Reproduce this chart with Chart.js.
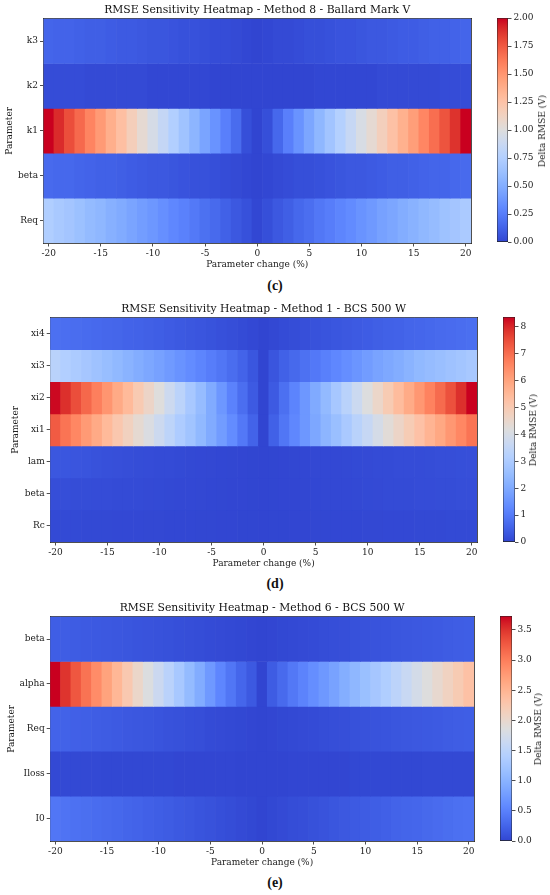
<!DOCTYPE html>
<html>
<head>
<meta charset="utf-8">
<script src="https://cdn.jsdelivr.net/npm/chart.js@4.4.0/dist/chart.umd.min.js"></script>
<style>
body{margin:0;background:#fff;width:550px;height:895px;position:relative;overflow:hidden}
canvas{position:absolute}
.cap{position:absolute;left:0;width:550px;text-align:center;font:bold 14px 'Liberation Serif',serif;color:#111}
.cbl{position:absolute;font:9px 'DejaVu Serif',serif;color:#222;white-space:nowrap;transform:translate(-50%,-50%) rotate(-90deg)}
</style>
</head>
<body>
<script>
// parameter change (%) columns, shared by the three maps
const pctSteps=[-20,-19,-18,-17,-16,-15,-14,-13,-12,-11,-10,-9,-8,-7,-6,-5,-4,-3,-2,-1,0,1,2,3,4,5,6,7,8,9,10,11,12,13,14,15,16,17,18,19,20]
const xTicks=[-20,-15,-10,-5,0,5,10,15,20]

// (c) Method 8 - Ballard Mark V
const paramsC=['k3','k2','k1','beta','Req']
const k3C=[0.14,0.13,0.13,0.12,0.11,0.11,0.10,0.09,0.09,0.08,0.07,0.07,0.06,0.05,0.05,0.04,0.03,0.03,0.02,0.01,0.00,0.01,0.02,0.02,0.03,0.04,0.04,0.05,0.06,0.06,0.07,0.08,0.08,0.09,0.10,0.10,0.11,0.12,0.12,0.13,0.14]
const k2C=[0.03,0.03,0.03,0.03,0.02,0.02,0.02,0.02,0.02,0.02,0.01,0.01,0.01,0.01,0.01,0.01,0.00,0.00,0.00,0.00,0.00,0.00,0.00,0.00,0.00,0.00,0.01,0.01,0.01,0.01,0.01,0.01,0.02,0.02,0.02,0.02,0.02,0.02,0.03,0.03,0.03]
const k1C=[2.00,1.90,1.79,1.69,1.58,1.48,1.37,1.27,1.16,1.05,0.95,0.85,0.75,0.65,0.55,0.45,0.36,0.26,0.17,0.04,0.00,0.04,0.15,0.26,0.36,0.46,0.56,0.66,0.76,0.86,0.96,1.05,1.15,1.26,1.36,1.46,1.57,1.67,1.77,1.88,2.00]
const betaC=[0.16,0.15,0.15,0.14,0.13,0.12,0.12,0.11,0.10,0.09,0.08,0.08,0.07,0.06,0.05,0.05,0.04,0.03,0.02,0.01,0.00,0.01,0.02,0.03,0.04,0.04,0.05,0.06,0.07,0.08,0.08,0.09,0.10,0.11,0.11,0.12,0.13,0.14,0.14,0.15,0.16]
const reqC=[0.74,0.70,0.67,0.63,0.59,0.56,0.52,0.49,0.45,0.41,0.38,0.34,0.30,0.27,0.23,0.19,0.16,0.12,0.08,0.05,0.01,0.04,0.08,0.11,0.15,0.18,0.22,0.25,0.29,0.32,0.36,0.39,0.43,0.46,0.50,0.53,0.57,0.60,0.64,0.67,0.71]
const cbTicksC=[0,0.25,0.5,0.75,1,1.25,1.5,1.75,2]

// (d) Method 1 - BCS 500 W
const paramsD=['xi4','xi3','xi2','xi1','lam','beta','Rc']
const xi4D=[0.78,0.75,0.72,0.69,0.66,0.62,0.59,0.55,0.52,0.48,0.44,0.40,0.36,0.32,0.28,0.24,0.20,0.16,0.11,0.06,0.00,0.05,0.10,0.14,0.18,0.22,0.26,0.30,0.34,0.38,0.42,0.46,0.50,0.53,0.57,0.60,0.63,0.67,0.70,0.73,0.76]
const xi3D=[3.30,3.15,3.00,2.85,2.70,2.55,2.40,2.25,2.10,1.95,1.80,1.65,1.50,1.35,1.20,1.05,0.90,0.72,0.55,0.30,0.00,0.28,0.50,0.65,0.80,0.95,1.10,1.25,1.40,1.55,1.70,1.85,1.98,2.10,2.25,2.40,2.50,2.60,2.70,2.80,2.90]
const xi2D=[8.30,7.90,7.50,7.10,6.70,6.30,5.85,5.45,5.00,4.60,4.20,3.75,3.35,2.90,2.50,2.05,1.60,1.15,0.75,0.38,0.00,0.38,0.78,1.18,1.60,2.02,2.45,2.88,3.30,3.72,4.15,4.55,4.98,5.40,5.82,6.25,6.65,7.05,7.45,7.90,8.37]
const xi1D=[7.30,6.90,6.55,6.20,5.85,5.45,5.10,4.75,4.40,4.10,3.75,3.40,3.05,2.75,2.40,2.05,1.70,1.35,0.95,0.55,0.00,0.50,0.90,1.25,1.60,1.95,2.30,2.60,2.95,3.30,3.60,3.95,4.30,4.60,4.95,5.25,5.60,5.90,6.25,6.55,6.90]
const lamD=[0.32,0.30,0.28,0.26,0.22,0.20,0.18,0.16,0.14,0.12,0.11,0.10,0.08,0.07,0.06,0.05,0.04,0.03,0.02,0.01,0.00,0.01,0.02,0.03,0.04,0.05,0.06,0.06,0.07,0.08,0.09,0.10,0.11,0.12,0.12,0.13,0.14,0.15,0.16,0.17,0.18]
const betaD=[0.16,0.15,0.14,0.14,0.13,0.12,0.11,0.10,0.10,0.09,0.08,0.07,0.06,0.06,0.05,0.04,0.03,0.02,0.02,0.01,0.00,0.01,0.02,0.02,0.03,0.04,0.05,0.06,0.06,0.07,0.08,0.09,0.10,0.10,0.11,0.12,0.13,0.14,0.14,0.15,0.16]
const rcD=[0.08,0.08,0.08,0.07,0.07,0.07,0.06,0.06,0.06,0.05,0.05,0.04,0.04,0.04,0.03,0.03,0.02,0.02,0.01,0.01,0.00,0.01,0.01,0.02,0.02,0.03,0.03,0.04,0.04,0.04,0.05,0.05,0.06,0.06,0.06,0.07,0.07,0.07,0.08,0.08,0.08]
const cbTicksD=[0,1,2,3,4,5,6,7,8]

// (e) Method 6 - BCS 500 W
const paramsE=['beta','alpha','Req','Iloss','I0']
const betaE=[0.20,0.19,0.18,0.17,0.16,0.15,0.14,0.13,0.12,0.11,0.10,0.09,0.08,0.07,0.06,0.05,0.04,0.03,0.02,0.01,0.00,0.01,0.02,0.03,0.04,0.05,0.06,0.07,0.08,0.09,0.10,0.11,0.12,0.13,0.14,0.15,0.16,0.17,0.18,0.19,0.20]
const alphaE=[3.73,3.50,3.28,3.08,2.88,2.68,2.47,2.25,2.03,1.84,1.65,1.48,1.29,1.10,0.92,0.73,0.55,0.40,0.27,0.16,0.00,0.18,0.30,0.42,0.52,0.62,0.72,0.82,0.94,1.05,1.16,1.27,1.38,1.50,1.62,1.75,1.86,1.98,2.10,2.22,2.35]
const reqE=[0.24,0.23,0.22,0.21,0.19,0.18,0.17,0.15,0.14,0.13,0.12,0.10,0.09,0.08,0.07,0.05,0.04,0.03,0.02,0.01,0.00,0.01,0.02,0.03,0.04,0.05,0.06,0.07,0.08,0.09,0.10,0.11,0.12,0.13,0.14,0.15,0.16,0.17,0.18,0.19,0.20]
const ilossE=[0.03,0.03,0.03,0.03,0.03,0.02,0.02,0.02,0.02,0.02,0.02,0.02,0.01,0.01,0.01,0.01,0.01,0.01,0.00,0.00,0.00,0.00,0.00,0.01,0.01,0.01,0.01,0.01,0.01,0.02,0.02,0.02,0.02,0.02,0.02,0.02,0.03,0.03,0.03,0.03,0.03]
const i0E=[0.40,0.38,0.36,0.34,0.32,0.30,0.28,0.26,0.24,0.22,0.20,0.18,0.16,0.14,0.12,0.10,0.08,0.06,0.04,0.02,0.00,0.02,0.04,0.06,0.07,0.09,0.11,0.13,0.15,0.17,0.18,0.20,0.22,0.24,0.26,0.27,0.29,0.31,0.33,0.35,0.36]
const cbTicksE=[0,0.5,1,1.5,2,2.5,3,3.5]

Chart.defaults.font.family="'DejaVu Serif', serif"
Chart.defaults.color='#222'

// coolwarm colormap table, pushed a little more saturated like the printed figure
const CW=[[59,76,192],[68,90,204],[77,104,215],[87,117,225],[98,130,234],[108,142,241],[119,154,247],[130,165,251],[141,176,254],[152,185,255],[163,194,255],[174,201,253],[184,208,249],[194,213,244],[204,217,238],[213,219,230],[221,221,221],[229,216,209],[236,211,197],[241,204,185],[245,196,173],[247,187,160],[247,177,148],[247,166,135],[244,154,123],[241,141,111],[236,127,99],[229,112,88],[222,96,77],[213,80,66],[203,62,56],[192,40,47],[180,4,38]]
    .map(c=>{const m=(c[0]+c[1]+c[2])/3;return c.map(v=>Math.max(0,Math.min(255,Math.round(m+(v-m)*1.2))))})
const rgb=c=>`rgb(${c.join(',')})`
const coolwarm=t=>{
    t=Math.max(0,Math.min(1,t))
    const f=t*32, i=Math.min(31,Math.floor(f)), u=f-i
    return rgb(CW[i].map((a,k)=>Math.round(a+(CW[i+1][k]-a)*u)))
}

const addCanvas=(left,top,w,h)=>{
    const c=document.createElement('canvas')
    c.width=w;c.height=h
    c.style.left=left+'px';c.style.top=top+'px'
    c.style.width=w+'px';c.style.height=h+'px'
    document.body.appendChild(c)
    return c
}

const addText=(cls,text,left,top)=>{
    const d=document.createElement('div')
    d.className=cls;d.textContent=text
    d.style.left=left+'px';d.style.top=top+'px'
    document.body.appendChild(d)
}

const renderHeatmap=(g,title,names,rows,vmax)=>{
    const n=names.length
    const canvas=addCanvas(0,g.top-18.3,Math.round(g.right+20),Math.round(g.bottom-g.top+18.3+32))
    const datasets=names.map((name,k)=>({
        label:name,
        data:pctSteps.map(p=>({x:p,y:[n-1-k-0.5,n-1-k+0.5]})),
        backgroundColor:rows[k].map(v=>coolwarm(v/vmax)),
        borderWidth:0,
        grouped:false,
        barPercentage:1,
        categoryPercentage:1
    }))
    const frame={drawOnChartArea:false,drawTicks:false}
    new Chart(canvas,{type:'bar',data:{datasets},options:{
        responsive:false,animation:false,events:[],
        layout:{padding:{left:0,right:20,top:0,bottom:4}},
        plugins:{
            legend:{display:false},tooltip:{enabled:false},
            title:{display:true,text:title,fullSize:false,color:'#111',font:{size:10.8,weight:'normal'},padding:{top:3.5,bottom:2.2}}
        },
        scales:{
            x:{type:'linear',min:-20.5,max:20.5,offset:false,z:1,
                afterBuildTicks:s=>{s.ticks=xTicks.map(v=>({value:v}))},
                afterFit:s=>{s.height=28},
                grid:{offset:false,drawOnChartArea:false,tickLength:3.5,color:'#222',lineWidth:0.8},
                border:{color:'#222',width:0.8},
                ticks:{padding:2,font:{size:9},maxRotation:0,autoSkip:false},
                title:{display:true,text:'Parameter change (%)',font:{size:9},padding:{top:0,bottom:0.5}}
            },
            y:{type:'linear',min:-0.5,max:n-0.5,z:1,
                afterBuildTicks:s=>{s.ticks=names.map((_,k)=>({value:n-1-k}))},
                afterFit:s=>{s.width=g.left},
                grid:{drawOnChartArea:false,tickLength:3.5,color:'#222',lineWidth:0.8},
                border:{color:'#222',width:0.8},
                ticks:{padding:2,font:{size:9},callback:v=>names[n-1-v]},
                title:{display:true,text:'Parameter',font:{size:9},padding:{top:g.yPad,bottom:0}}
            },
            xt:{type:'linear',position:'top',z:1,ticks:{display:false},grid:frame,
                border:{color:'#222',width:0.8},afterFit:s=>{s.height=0}},
            yr:{type:'linear',position:'right',z:1,ticks:{display:false},grid:frame,
                border:{color:'#222',width:0.8},afterFit:s=>{s.width=0}}
        }
    }})
}

const renderColorbar=(g,vmax,ticks,decimals)=>{
    const w=g.cbR-g.cbL
    const canvas=addCanvas(g.cbL-7,g.top-10,Math.round(w+47),Math.round(g.bottom-g.top+20))
    new Chart(canvas,{type:'bar',
        data:{labels:['cb'],datasets:[{
            data:[[0,vmax]],
            backgroundColor:ctx=>{
                const a=ctx.chart.chartArea
                if(!a) return null
                const gr=ctx.chart.ctx.createLinearGradient(0,a.bottom,0,a.top)
                CW.forEach((c,i)=>gr.addColorStop(i/32,rgb(c)))
                return gr
            },
            borderColor:'#222',borderWidth:0.8,borderSkipped:false,
            barPercentage:1,categoryPercentage:1
        }]},
        options:{
            responsive:false,animation:false,events:[],
            layout:{padding:{left:7,right:0,top:10,bottom:10}},
            plugins:{legend:{display:false},tooltip:{enabled:false}},
            scales:{
                x:{display:false},
                y:{position:'right',min:0,max:vmax,
                    afterBuildTicks:s=>{s.ticks=ticks.map(v=>({value:v}))},
                    afterFit:s=>{s.width=40},
                    grid:{drawOnChartArea:false,tickLength:3.5,color:'#222',lineWidth:0.8},
                    border:{display:false},
                    ticks:{padding:2,font:{size:9},callback:v=>Number(v).toFixed(decimals)}
                }
            }
        }
    })
    addText('cbl','Delta RMSE (V)',g.cbLabel,(g.top+g.bottom)/2)
}

const panels=[
    {g:{left:43.5,right:470.8,top:18.3,bottom:242.7,cbL:497.4,cbR:508.7,cbLabel:542,yPad:4.4,cap:278},
     title:'RMSE Sensitivity Heatmap - Method 8 - Ballard Mark V',names:paramsC,rows:[k3C,k2C,k1C,betaC,reqC],vmax:2.0,ticks:cbTicksC,dec:2,cap:'(c)'},
    {g:{left:50.2,right:477.1,top:317.3,bottom:542,cbL:503.4,cbR:515,cbLabel:533,yPad:10.4,cap:576},
     title:'RMSE Sensitivity Heatmap - Method 1 - BCS 500 W',names:paramsD,rows:[xi4D,xi3D,xi2D,xi1D,lamD,betaD,rcD],vmax:8.37,ticks:cbTicksD,dec:0,cap:'(d)'},
    {g:{left:50.2,right:473.6,top:616,bottom:841,cbL:500,cbR:511.5,cbLabel:538,yPad:5.8,cap:875},
     title:'RMSE Sensitivity Heatmap - Method 6 - BCS 500 W',names:paramsE,rows:[betaE,alphaE,reqE,ilossE,i0E],vmax:3.73,ticks:cbTicksE,dec:1,cap:'(e)'}
]

panels.forEach(p=>{
    renderHeatmap(p.g,p.title,p.names,p.rows,p.vmax)
    renderColorbar(p.g,p.vmax,p.ticks,p.dec)
    addText('cap',p.cap,0,p.g.cap)
})
</script>
</body>
</html>
